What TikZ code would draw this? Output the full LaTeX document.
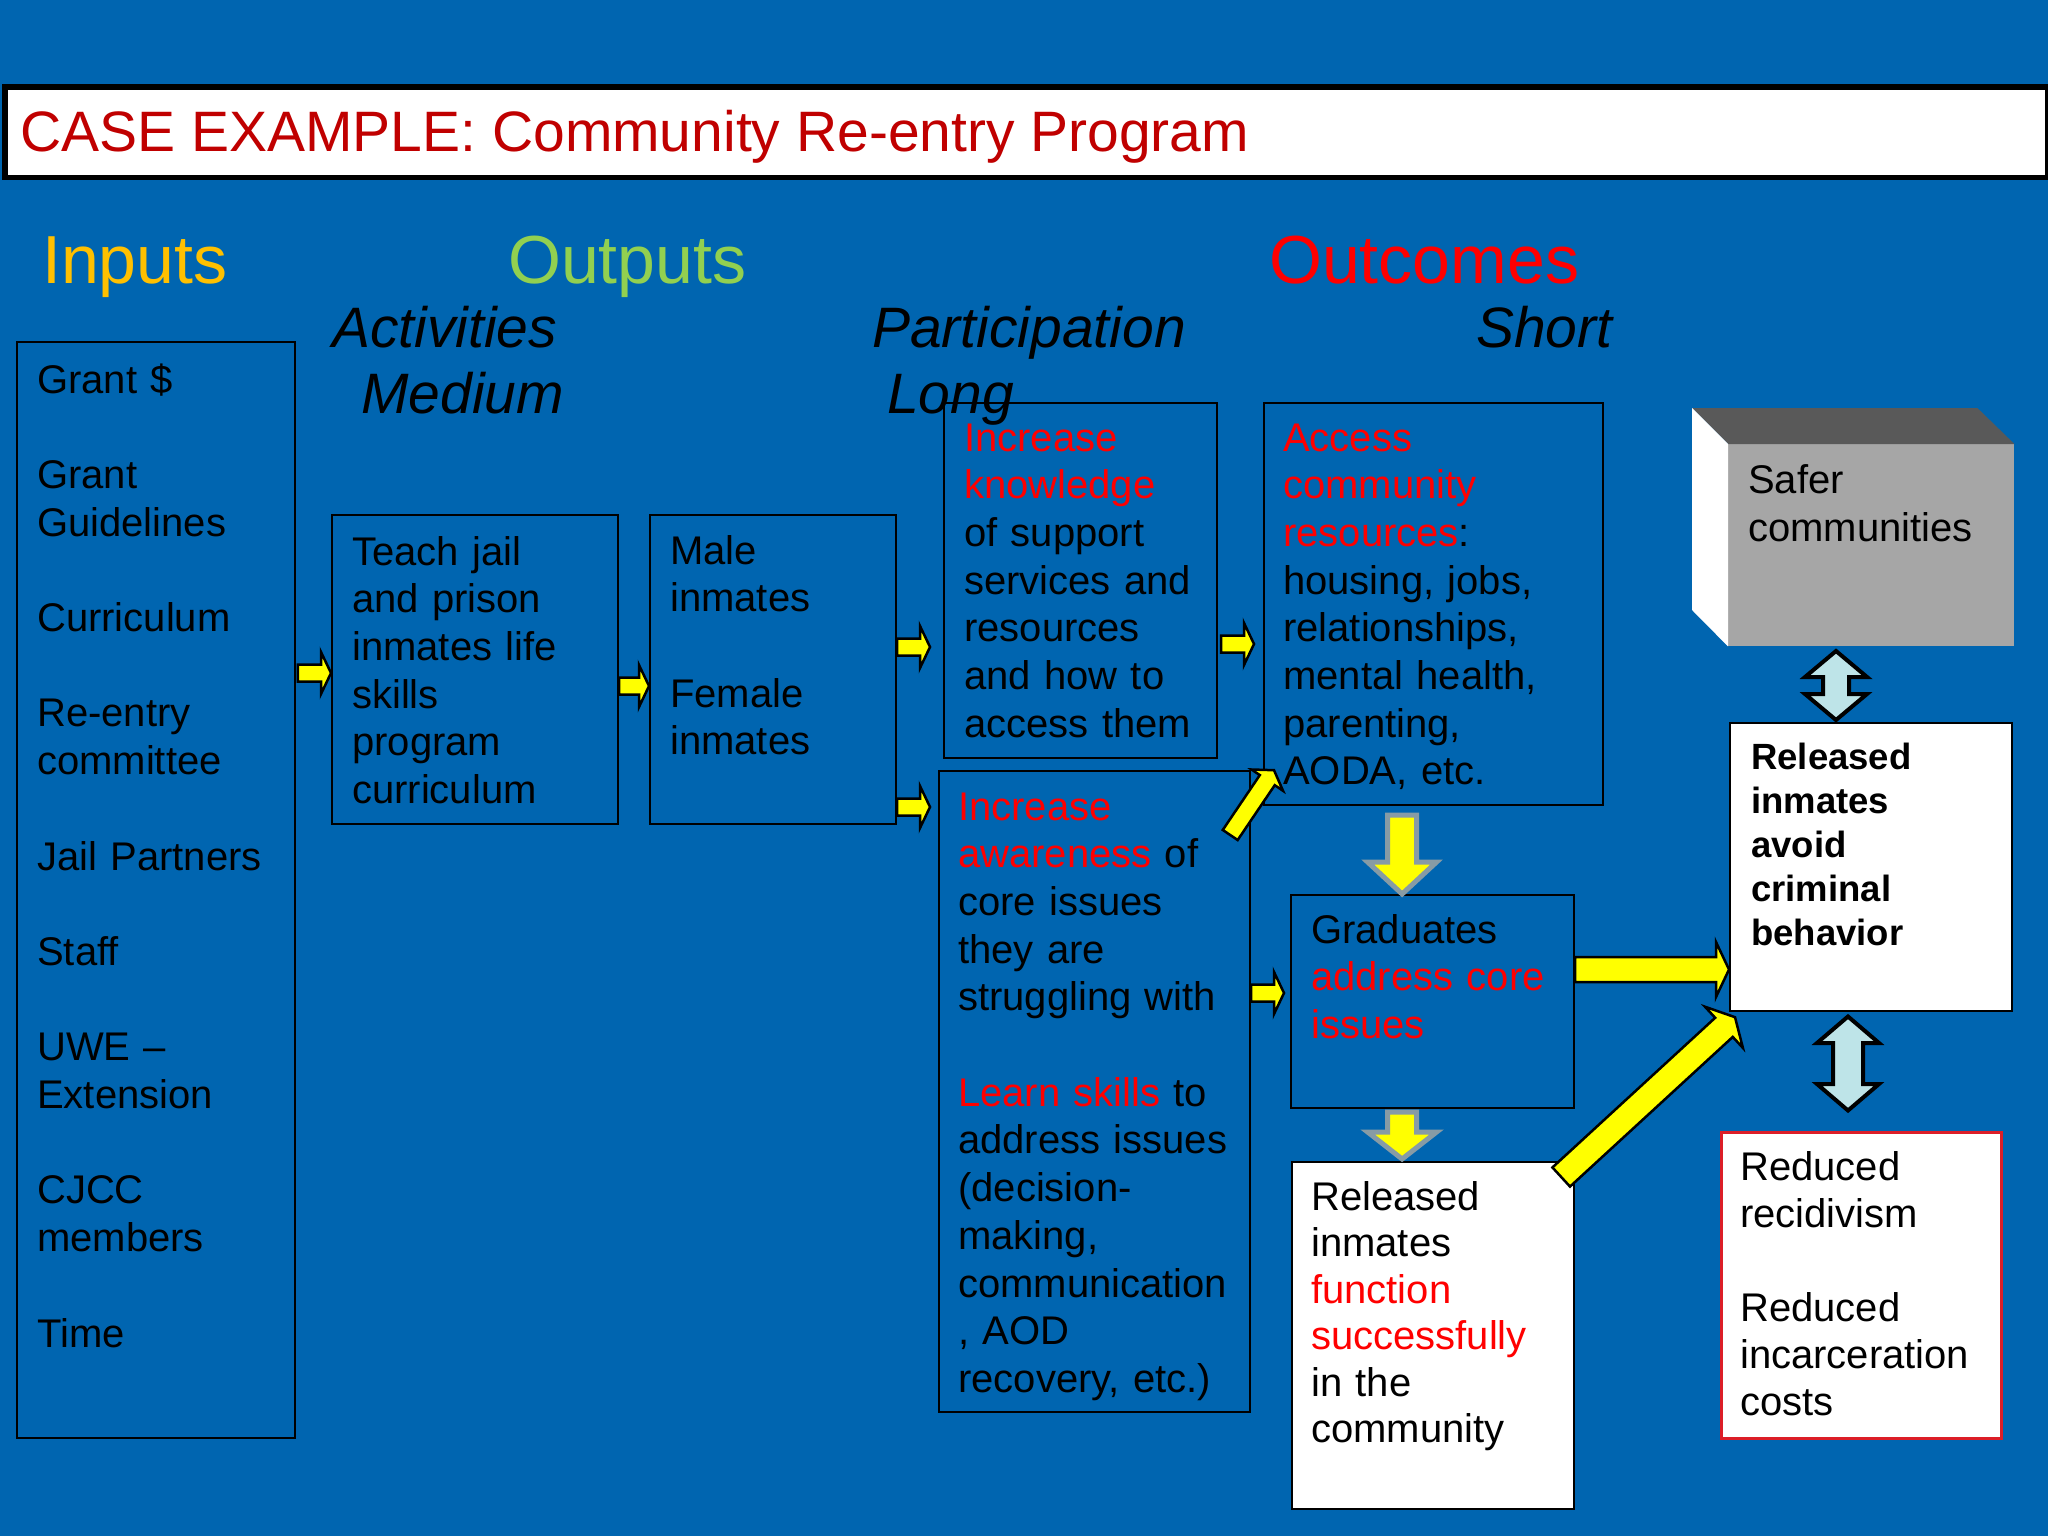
\documentclass[tikz,border=0pt]{standalone}
\usepackage{fontspec}
\setmainfont{Liberation Sans}
\usetikzlibrary{calc}
\definecolor{bg}{RGB}{0,101,176}
\definecolor{titlered}{RGB}{192,0,0}
\definecolor{hiRed}{RGB}{255,0,0}
\definecolor{inYel}{RGB}{255,192,0}
\definecolor{outGrn}{RGB}{146,208,80}
\definecolor{ayel}{RGB}{255,255,0}
\definecolor{agrey}{RGB}{135,155,165}
\definecolor{acyan}{RGB}{190,228,232}
\definecolor{cubeTop}{RGB}{89,89,89}
\definecolor{cubeFront}{RGB}{166,166,166}
\definecolor{boxRed}{RGB}{220,30,40}
\newcommand\hl[1]{\textcolor{hiRed}{#1}}
% block arrow: style, from, to, shaft half width, head half width, head length
\newcommand\barrow[6]{%
  \coordinate (bah) at ($(#3)!#6!(#2)$);
  \draw[#1] ($(#2)!#4!90:(#3)$) -- ($(bah)!#4!90:(#3)$) -- ($(bah)!#5!90:(#3)$) -- (#3)
    -- ($(bah)!#5!-90:(#3)$) -- ($(bah)!#4!-90:(#3)$) -- ($(#2)!#4!-90:(#3)$) -- cycle;}
\tikzset{
  bluebox/.style={draw=black, line width=2.2pt, inner sep=0pt, anchor=north west},
  whitebox/.style={draw=black, fill=white, line width=2.2pt, inner sep=0pt, anchor=north west},
  body/.style={font=\fontsize{40}{47.7}\selectfont, anchor=base west, inner sep=0pt, text width=430pt, align=left},
  hdr/.style={font=\fontsize{68}{80}\selectfont, anchor=base west, inner sep=0pt},
  sub/.style={font=\fontsize{57}{67}\selectfont\itshape, anchor=base west, inner sep=0pt},
  yarrow/.style={fill=ayel, draw=black, line width=2.5pt, line join=miter},
  varrow/.style={fill=ayel, draw=agrey, line width=5pt, line join=miter},
  darrow/.style={fill=acyan, draw=black, line width=4pt, line join=miter},
}
\begin{document}
\begin{tikzpicture}[x=1pt, y=-1pt]
\useasboundingbox (0,0) rectangle (2048,1536);
\fill[bg] (0,0) rectangle (2048,1536);
% title bar
\node[draw=black, fill=white, line width=5.5pt, inner sep=0pt, anchor=north west,
  minimum width=2043pt, minimum height=90pt] (titlebar) at (2,84.5) {};
\node[anchor=base west, inner sep=0pt, font=\fontsize{57}{67}\selectfont, text=titlered]
  (title) at (20,152) {CASE EXAMPLE: Community Re-entry Program};
% headers
\node[hdr, text=inYel] (hIn) at (42,283) {Inputs};
\node[hdr, text=outGrn] (hOut) at (508,283) {Outputs};
\node[hdr, text=hiRed] (hOc) at (1269,283) {Outcomes};
\node[sub] (hAct) at (332,347) {Activities};
\node[sub] (hMed) at (361,413) {Medium};
\node[sub] (hPart) at (872,347) {Participation};
\node[sub] (hLong) at (887,413) {Long};
\node[sub] (hShort) at (1476,347) {Short};
% boxes
\node[bluebox, minimum width=278pt, minimum height=1096pt] (inputs) at (15.7,341) {};
\node[bluebox, minimum width=286pt, minimum height=309pt] (teach) at (331,514) {};
\node[bluebox, minimum width=246pt, minimum height=309pt] (male) at (649,514) {};
\node[bluebox, minimum width=273pt, minimum height=355pt] (knowledge) at (943,402) {};
\node[bluebox, minimum width=339pt, minimum height=402pt] (access) at (1263,402) {};
\node[bluebox, minimum width=311pt, minimum height=641pt] (awareness) at (938,770) {};
\node[bluebox, minimum width=283pt, minimum height=213pt] (graduates) at (1290,894) {};
\node[whitebox, minimum width=282pt, minimum height=347pt] (relfunc) at (1291,1161) {};
\node[whitebox, draw=boxRed, line width=3pt, minimum width=280pt, minimum height=306pt] (reduced) at (1720,1131) {};
\node[whitebox, minimum width=282pt, minimum height=288pt] (avoid) at (1729,722) {};
% safer communities cube
\node[fill=cubeFront, inner sep=0pt, anchor=north west, minimum width=286pt, minimum height=202pt] (safer) at (1728,444) {};
\fill[cubeTop] (safer.north west) -- ++(-36,-36) -- ($(safer.north east)+(-37,-36)$) -- (safer.north east) -- cycle;
\fill[white] (safer.north west) -- ++(-36,-36) -- ++(0,202) -- (safer.south west) -- cycle;
% texts
\node[body] (inputsT) at (37,393) {Grant \$\\[47.7pt]Grant\\Guidelines\\[47.7pt]Curriculum\\[47.7pt]Re-entry\\committee\\[47.7pt]Jail Partners\\[47.7pt]Staff\\[47.7pt]UWE –\\Extension\\[47.7pt]CJCC\\members\\[47.7pt]Time};
\node[body] (teachT) at (352,565) {Teach jail\\and prison\\inmates life\\skills\\program\\curriculum};
\node[body] (maleT) at (670,564) {Male\\inmates\\[47.7pt]Female\\inmates};
\node[body] (knowT) at (964,451) {\hl{Increase}\\\hl{knowledge}\\of support\\services and\\resources\\and how to\\access them};
\node[body] (accessT) at (1283,451) {\hl{Access}\\\hl{community}\\\hl{resources}:\\housing, jobs,\\relationships,\\mental health,\\parenting,\\AODA, etc.};
\node[body] (awareT) at (958,820) {\hl{Increase}\\\hl{awareness} of\\core issues\\they are\\struggling with\\[47.7pt]\hl{Learn skills} to\\address issues\\(decision-\\making,\\communication\\, AOD\\recovery, etc.)};
\node[body] (gradT) at (1311,943) {Graduates\\\hl{address core}\\\hl{issues}};
\node[body, font=\fontsize{40}{46.5}\selectfont] (relfuncT) at (1311,1210) {Released\\inmates\\\hl{function}\\\hl{successfully}\\in the\\community};
\node[body, font=\fontsize{40}{47}\selectfont] (reducedT) at (1740,1180) {Reduced\\recidivism\\[47pt]Reduced\\incarceration\\costs};
\node[body, font=\fontsize{40}{48}\selectfont] (saferT) at (1748,493) {Safer\\communities};
\node[body, font=\fontsize{36.5}{44}\selectfont\bfseries] (avoidT) at (1751,769) {Released\\inmates\\avoid\\criminal\\behavior};
% small yellow arrows
\coordinate (a1s) at ($(inputs.east |- 0,673)+(2,0)$);
\coordinate (a1e) at (teach.west |- 0,673);
\barrow{yarrow}{a1s}{a1e}{8.5pt}{21pt}{10pt}
\coordinate (a2s) at (teach.east |- 0,686);
\coordinate (a2e) at (male.west |- 0,686);
\barrow{yarrow}{a2s}{a2e}{8.5pt}{21pt}{10pt}
\coordinate (a3s) at (male.east |- 0,647);
\coordinate (a3e) at ($(knowledge.west |- 0,647)+(-13,0)$);
\barrow{yarrow}{a3s}{a3e}{8.5pt}{21pt}{10pt}
\coordinate (a4s) at (male.east |- 0,807);
\coordinate (a4e) at ($(awareness.west |- 0,807)+(-8,0)$);
\barrow{yarrow}{a4s}{a4e}{8.5pt}{21pt}{10pt}
\coordinate (a5s) at ($(knowledge.east |- 0,644)+(3,0)$);
\coordinate (a5e) at ($(access.west |- 0,644)+(-9,0)$);
\barrow{yarrow}{a5s}{a5e}{8.5pt}{21pt}{10pt}
\coordinate (a6s) at (awareness.east |- 0,993);
\coordinate (a6e) at ($(graduates.west |- 0,993)+(-6,0)$);
\barrow{yarrow}{a6s}{a6e}{8.5pt}{21pt}{10pt}
\coordinate (d1s) at ($(awareness.north east)+(-21,65)$);
\coordinate (d1e) at ($(access.south west)+(11,-36)$);
\barrow{yarrow}{d1s}{d1e}{9pt}{19pt}{12pt}
% big yellow arrows
\coordinate (b1s) at (graduates.east |- 0,969.5);
\coordinate (b1e) at (avoid.west |- 0,969.5);
\barrow{yarrow}{b1s}{b1e}{12.5pt}{27.5pt}{13pt}
\coordinate (b2s) at ($(relfunc.north east)+(-14,16)$);
\coordinate (b2e) at ($(avoid.south west)+(6,5)$);
\barrow{yarrow}{b2s}{b2e}{13pt}{28pt}{15pt}
% vertical yellow arrows with grey outline
\coordinate (v1s) at ($(access.south)+(-31.5,9)$);
\coordinate (v1e) at ($(graduates.north)+(-30.5,0)$);
\barrow{varrow}{v1s}{v1e}{14.5pt}{34.5pt}{32pt}
\coordinate (v2s) at ($(graduates.south)+(-30.5,3)$);
\coordinate (v2e) at ($(relfunc.north)+(-31,-2)$);
\barrow{varrow}{v2s}{v2e}{14.5pt}{34.5pt}{27pt}
% double arrows
\coordinate (dbl1) at (1836,685.5);
\draw[darrow, shift={(dbl1)}] (0,-34.5) -- (31,-8.5) -- (13,-8.5) -- (13,8.5) -- (31,8.5) -- (0,34.5)
  -- (-31,8.5) -- (-13,8.5) -- (-13,-8.5) -- (-31,-8.5) -- cycle;
\coordinate (dbl2) at (1848,1063.5);
\draw[darrow, shift={(dbl2)}] (0,-47) -- (31,-20.5) -- (15,-20.5) -- (15,20.5) -- (31,20.5) -- (0,47)
  -- (-31,20.5) -- (-15,20.5) -- (-15,-20.5) -- (-31,-20.5) -- cycle;
\end{tikzpicture}
\end{document}
